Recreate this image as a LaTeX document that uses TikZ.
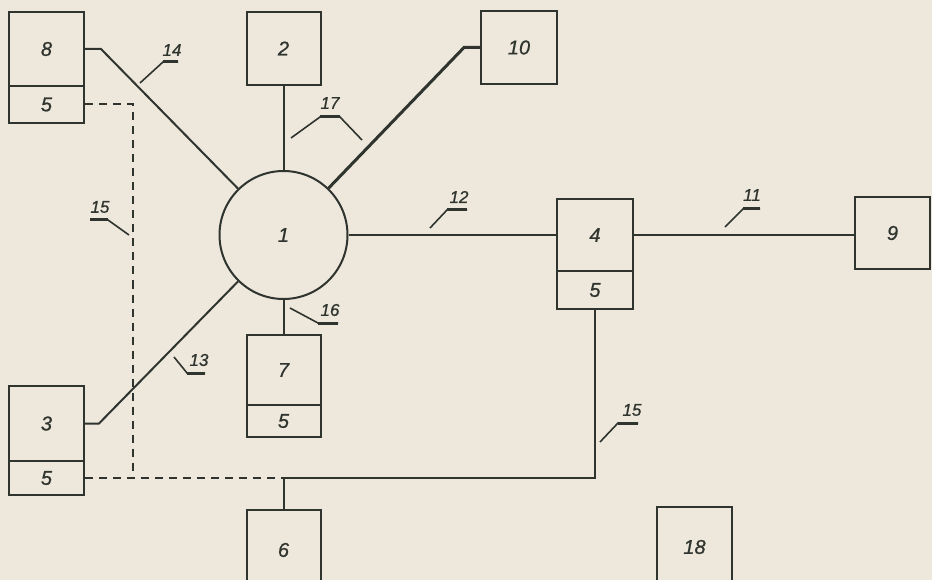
\documentclass[tikz,border=0pt]{standalone}
\usepackage{fontspec}
\setmainfont{Liberation Sans}
\newfontfamily\drawfont{Liberation Sans}[FakeBold=0.8, ItalicFeatures={FakeBold=0.8}]
\definecolor{paper}{HTML}{EEE8DC}
\definecolor{inkc}{HTML}{2F342F}
\begin{document}
\begin{tikzpicture}[x=1pt,y=-1pt,
  ink/.style={draw=inkc, line width=2pt},
  box/.style={ink, rectangle, minimum width=75pt, inner sep=0pt,
    font=\drawfont\fontsize{20}{20}\selectfont\itshape, text=inkc},
  hub/.style={ink, circle, minimum size=128pt, inner sep=0pt,
    font=\drawfont\fontsize{20}{20}\selectfont\itshape, text=inkc},
  wire/.style={ink, line join=miter},
  heavywire/.style={draw=inkc, line width=3pt},
  link/.style={draw=inkc, line width=2pt, dash pattern=on 8pt off 6pt},
  leader/.style={draw=inkc, line width=1.6pt},
  leaderbar/.style={draw=inkc, line width=3pt},
  tag/.style={font=\drawfont\fontsize{17}{17}\selectfont\itshape, text=inkc, inner sep=0pt}
]
% sheet
\fill[paper] (0,0) rectangle (932,580);
\useasboundingbox (0,0) rectangle (932,580);
\clip (0,0) rectangle (932,580);

% central unit
\node[hub] (c1) at (283.5,235) {1};

% peripheral units
\node[box, minimum height=74pt] (b8) at (46.5,49) {8};
\node[box, minimum height=37pt] (b8s) at (46.5,104.5) {5};
\node[box, minimum width=74pt, minimum height=73pt] (b2) at (283.5,48.5) {2};
\node[box, minimum width=76pt, minimum height=73pt] (b10) at (519,47.5) {10};
\node[box, minimum width=76pt, minimum height=72pt] (b4) at (595,235) {4};
\node[box, minimum width=76pt, minimum height=38pt] (b4s) at (595,290) {5};
\node[box, minimum height=72pt] (b9) at (892.5,233) {9};
\node[box, minimum height=75pt] (b3) at (46.5,423.5) {3};
\node[box, minimum height=34pt] (b3s) at (46.5,478) {5};
\node[box, minimum width=74pt, minimum height=70pt] (b7) at (283.5,370) {7};
\node[box, minimum width=74pt, minimum height=32pt] (b7s) at (283.5,421) {5};
\node[box, minimum width=74pt, minimum height=80pt] (b6) at (283.5,550) {6};
\node[box, minimum height=80pt] (b18) at (694.5,547) {18};

% links to the central unit
\draw[wire] (b8.east) -- ++(16,0) coordinate (k8) -- (c1);
\draw[wire] (b2.south) -- (c1.north);
\draw[heavywire] (b10.west) -- ++(-16,0) coordinate (k10) -- (c1);
\draw[wire] (b3.east) -- ++(14,0) coordinate (k3) -- (c1);
\draw[wire] (b7.north) -- (c1.south);
\draw[wire] (c1.east) -- (b4.west);
\draw[wire] (b4.east) -- (b4.east -| b9.west);

% line 15
\coordinate (j6) at (b3s.east -| b6.north);
\coordinate (dv) at (133,478);
\draw[wire] (b4s.south) |- (j6) -- (b6.north);
\draw[link] (b8s.east) -| (dv);
\draw[link] (b3s.east) -- (j6);

% reference leaders
\draw[leader] (140,83) -- (163,62) -- (178,62);
\draw[leaderbar] (163,62) -- (178,62);
\node[tag] (t14) at (172,50) {14};

\draw[leader] (291,138) -- (320,117) -- (340,117) -- (362,140);
\draw[leaderbar] (320,117) -- (340,117);
\node[tag] (t17) at (330,103) {17};

\draw[leader] (90,220) -- (108,220) -- (129,235);
\draw[leaderbar] (90,220) -- (108,220);
\node[tag] (t15a) at (100,207) {15};

\draw[leader] (174,357) -- (187,373) -- (205,373);
\draw[leaderbar] (187,373) -- (205,373);
\node[tag] (t13) at (199,360) {13};

\draw[leader] (290,308) -- (318,323) -- (338,323);
\draw[leaderbar] (318,323) -- (338,323);
\node[tag] (t16) at (330,310) {16};

\draw[leader] (430,228) -- (447,210) -- (467,210);
\draw[leaderbar] (447,210) -- (467,210);
\node[tag] (t12) at (459,197) {12};

\draw[leader] (725,227) -- (743,209) -- (760,209);
\draw[leaderbar] (743,209) -- (760,209);
\node[tag] (t11) at (752,195) {11};

\draw[leader] (600,442) -- (618,423) -- (638,423);
\draw[leaderbar] (618,423) -- (638,423);
\node[tag] (t15b) at (632,410) {15};
\end{tikzpicture}
\end{document}
